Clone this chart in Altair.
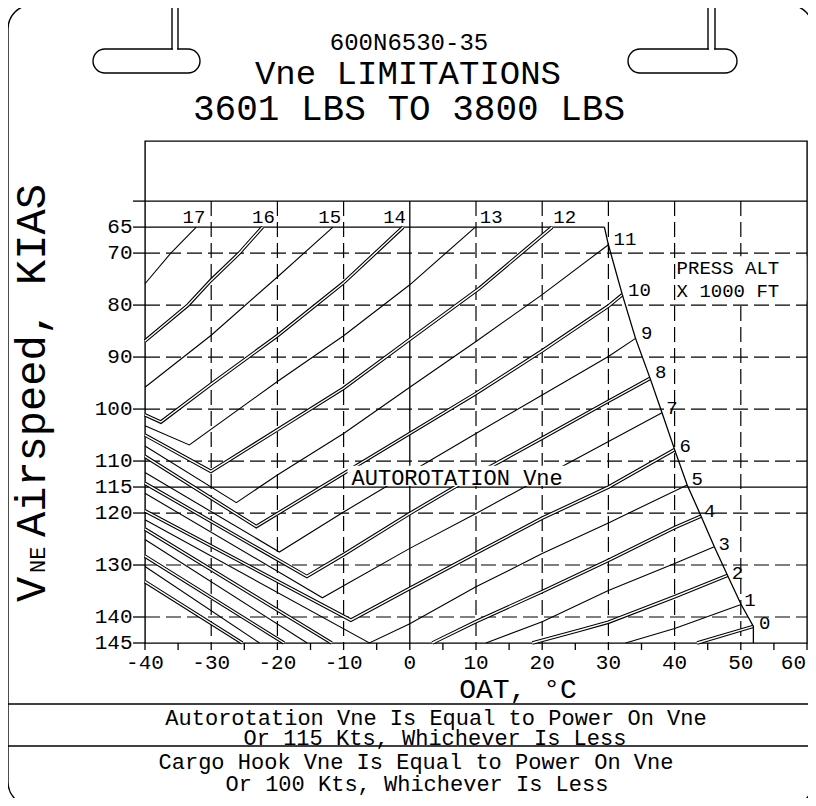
import altair as alt
import pandas as pd

# ------------------------------------------------------------------
# Values
# Pressure-altitude lines (x 1000 ft): OAT (deg C) and Vne (KIAS) along each line
# ------------------------------------------------------------------
p17_oat = [-40.0, -36.1, -32.25]
p17_vne = [75.9, 70.0, 65.0]
p16_oat = [-40.0, -33.5, -30.0, -25.75, -22.25]
p16_vne = [86.9, 80.0, 75.2, 70.0, 65.0]
p15_oat = [-40.0, -30.0, -20.0, -11.6]
p15_vne = [95.8, 85.8, 74.6, 65.0]
p14_oat = [-40.0, -37.6, -30.0, -20.0, -10.0, -1.0]
p14_vne = [101.1, 102.5, 95.2, 85.9, 75.7, 65.0]
p13_oat = [-40.0, -33.3, -20.0, -10.0, 0.0, 9.9]
p13_vne = [103.2, 106.9, 94.7, 85.9, 76.1, 65.0]
p12_oat = [-40.0, -30.05, -20.0, -10.0, 0.0, 10.5, 21.5]
p12_vne = [105.0, 112.0, 104.0, 96.0, 86.6, 76.8, 65.0]
p11_oat = [-40.0, -26.2, -20.0, -10.0, 0.0, 10.0, 20.0, 30.0]
p11_vne = [107.1, 118.0, 112.7, 104.7, 95.8, 87.0, 78.0, 68.4]
p10_oat = [-40.0, -23.2, -10.0, 0.0, 10.0, 20.0, 30.0, 32.1]
p10_vne = [109.1, 122.6, 112.4, 104.7, 97.0, 88.8, 80.2, 78.0]
p9_oat = [-40.0, -19.7, -10.0, 0.0, 10.0, 20.0, 30.0, 34.1]
p9_vne = [112.2, 127.5, 119.8, 112.2, 104.7, 97.3, 89.9, 86.4]
p8_oat = [-40.0, -15.55, -10.0, 0.0, 10.0, 20.0, 30.0, 36.3]
p8_vne = [114.3, 132.2, 128.0, 120.1, 112.6, 105.6, 98.5, 94.1]
p7_oat = [-40.0, -13.2, -10.0, 0.0, 10.0, 22.5, 38.1]
p7_vne = [116.2, 136.3, 134.0, 126.8, 120.1, 111.4, 100.7]
p6_oat = [-40.0, -8.9, 0.0, 10.0, 20.0, 30.0, 40.0]
p6_vne = [119.6, 140.6, 134.5, 127.7, 121.0, 115.0, 107.8]
p5_oat = [-40.0, -6.1, 0.0, 10.0, 20.0, 30.0, 41.9]
p5_vne = [121.3, 145.0, 141.3, 134.2, 127.8, 121.9, 114.6]
p4_cold_oat = [-40.0, -11.8]
p4_cold_vne = [123.1, 145.0]
p4_warm_oat = [3.4, 10.0, 20.0, 30.0, 40.0, 44.0]
p4_warm_vne = [145.0, 140.9, 135.1, 129.1, 122.8, 120.6]
p3_cold_oat = [-40.0, -15.5]
p3_cold_vne = [125.1, 145.0]
p3_warm_oat = [11.5, 20.0, 30.0, 40.0, 46.0]
p3_warm_vne = [145.0, 140.9, 134.9, 129.7, 126.5]
p2_cold_oat = [-40.0, -19.0]
p2_cold_vne = [128.3, 145.0]
p2_warm_oat = [18.5, 25.5, 30.0, 40.0, 48.0]
p2_warm_vne = [145.0, 142.6, 141.0, 136.1, 132.0]
p1_cold_oat = [-40.0, -22.7]
p1_cold_vne = [130.3, 145.0]
p1_warm_oat = [32.6, 40.0, 50.05]
p1_warm_vne = [145.0, 142.2, 137.6]
p0_cold_oat = [-40.0, -25.3]
p0_cold_vne = [133.2, 145.0]
p0_warm_oat = [43.4, 51.9]
p0_warm_vne = [145.0, 141.8]

# Vne limit boundary (right edge of the family of lines)
limit_oat = [29.4, 30.0, 32.1, 34.1, 36.3, 38.1, 40.0, 41.9, 44.0, 46.0, 48.0, 50.05, 51.9, 51.9]
limit_vne = [65.0, 68.4, 78.0, 86.4, 94.1, 100.7, 107.8, 114.6, 120.6, 126.5, 132.0, 137.6, 141.8, 145.0]

# altitudes drawn as double lines
double_alts = [0, 2, 4, 6, 8, 10, 12, 14, 16]

# altitude labels
alt_labels = ["0", "1", "2", "3", "4", "5", "6", "7", "8", "9", "10", "11", "12", "13", "14", "15", "16", "17"]
alt_label_oat = [53.6, 51.4, 49.5, 47.5, 45.3, 43.4, 41.6, 39.6, 37.9, 35.8, 34.7, 32.5, 23.4, 12.3, -2.3, -12.1, -22.1, -32.6]
alt_label_vne = [141.2, 136.8, 131.5, 125.9, 119.7, 113.5, 107.1, 99.8, 92.9, 85.4, 77.1, 67.2, 63.0, 63.0, 63.0, 63.0, 63.0, 63.0]

# axes / grid
oat_ticks = list(range(-40, 65, 5))
oat_label_values = [-40, -30, -20, -10, 0, 10, 20, 30, 40, 50]
oat_tick_labels = ["-40", "-30", "-20", "-10", "0", "10", "20", "30", "40", "50"]
oat_last_value = [60]
oat_last_label = ["60"]
vne_ticks = [60, 65, 70, 80, 90, 100, 110, 115, 120, 130, 140, 145]
vne_label_values = [65, 70, 80, 90, 100, 110, 115, 120, 130, 140, 145]
vne_tick_labels = ["65", "70", "80", "90", "100", "110", "115", "120", "130", "140", "145"]
grid_oat = [-30, -20, -10, 10, 20, 30, 40, 50]
grid_vne = [70, 80, 90, 100, 110, 120, 130, 140]

# texts
doc_number = "600N6530-35"
title_1 = "Vne LIMITATIONS"
title_2 = "3601 LBS TO 3800 LBS"
x_title = "OAT, °C"
note_lines = [
    "Autorotation Vne Is Equal to Power On Vne",
    "Or 115 Kts, Whichever Is Less",
    "Cargo Hook Vne Is Equal to Power On Vne",
    "Or 100 Kts, Whichever Is Less",
]
autorot_text = "AUTOROTATION Vne"
press_alt_text = ["PRESS ALT", "X 1000 FT"]
y_title_parts = ["V", "NE", "Airspeed, KIAS"]

# ------------------------------------------------------------------
# Scales and helpers
# ------------------------------------------------------------------
W, H = 662, 502
OAT_MIN, OAT_MAX = -40, 60
VNE_TOP, VNE_BOT = 48.44, 145
FONT = "Liberation Mono"

xs = alt.Scale(domain=[OAT_MIN, OAT_MAX], nice=False, zero=False)
ys = alt.Scale(domain=[VNE_TOP, VNE_BOT], reverse=True, nice=False, zero=False)


def ox(p):  # pixel offset from plot left -> OAT value on the x scale
    return OAT_MIN + p * (OAT_MAX - OAT_MIN) / W


def vy(p):  # pixel offset from plot top -> Vne value on the y scale
    return VNE_TOP + p * (VNE_BOT - VNE_TOP) / H


def X(f):
    return alt.X(f, type="quantitative", scale=xs, axis=None)


def Y(f):
    return alt.Y(f, type="quantitative", scale=ys, axis=None)


# ------------------------------------------------------------------
# Tables
# ------------------------------------------------------------------
segments = [
    (17, p17_oat, p17_vne), (16, p16_oat, p16_vne), (15, p15_oat, p15_vne),
    (14, p14_oat, p14_vne), (13, p13_oat, p13_vne), (12, p12_oat, p12_vne),
    (11, p11_oat, p11_vne), (10, p10_oat, p10_vne), (9, p9_oat, p9_vne),
    (8, p8_oat, p8_vne), (7, p7_oat, p7_vne), (6, p6_oat, p6_vne),
    (5, p5_oat, p5_vne),
    (4, p4_cold_oat, p4_cold_vne), (4, p4_warm_oat, p4_warm_vne),
    (3, p3_cold_oat, p3_cold_vne), (3, p3_warm_oat, p3_warm_vne),
    (2, p2_cold_oat, p2_cold_vne), (2, p2_warm_oat, p2_warm_vne),
    (1, p1_cold_oat, p1_cold_vne), (1, p1_warm_oat, p1_warm_vne),
    (0, p0_cold_oat, p0_cold_vne), (0, p0_warm_oat, p0_warm_vne),
]
rows = []
for sid, (a, ts, vs) in enumerate(segments):
    for i, (t, v) in enumerate(zip(ts, vs)):
        rows.append({"seg": sid, "alt": a, "oat": t, "vne": v, "i": i,
                     "double": a in double_alts})
lines_df = pd.DataFrame(rows)
single_df = lines_df[~lines_df["double"]]
double_df = lines_df[lines_df["double"]]
limit_df = pd.DataFrame({"oat": limit_oat, "vne": limit_vne, "i": range(len(limit_oat))})
label_df = pd.DataFrame({"txt": alt_labels, "oat": alt_label_oat, "vne": alt_label_vne})

# ------------------------------------------------------------------
# Axes (ticks and tick labels on the shared scales)
# ------------------------------------------------------------------
xticks = alt.Chart(pd.DataFrame({"oat": oat_ticks, "v1": VNE_BOT, "v2": vy(H + 7)})).mark_rule(
    color="black", strokeWidth=1.3).encode(x=X("oat:Q"), y=Y("v1:Q"), y2="v2:Q")
xlabels = alt.Chart(pd.DataFrame({"oat": oat_label_values, "txt": oat_tick_labels,
                                  "v": vy(H + 20)})).mark_text(
    font=FONT, fontSize=21, color="black", align="center", baseline="middle").encode(
    x=X("oat:Q"), y=Y("v:Q"), text="txt:N")
xlabel_last = alt.Chart(pd.DataFrame({"oat": oat_last_value, "txt": oat_last_label,
                                      "v": vy(H + 20)})).mark_text(
    font=FONT, fontSize=21, color="black", align="right", baseline="middle", dx=-1).encode(
    x=X("oat:Q"), y=Y("v:Q"), text="txt:N")
yticks = alt.Chart(pd.DataFrame({"vne": vne_ticks, "t1": ox(-12), "t2": OAT_MIN})).mark_rule(
    color="black", strokeWidth=1.3).encode(x=X("t1:Q"), x2="t2:Q", y=Y("vne:Q"))
ylabels = alt.Chart(pd.DataFrame({"vne": vne_label_values, "txt": vne_tick_labels,
                                  "t": ox(-12.5)})).mark_text(
    font=FONT, fontSize=21, color="black", align="right", baseline="middle").encode(
    x=X("t:Q"), y=Y("vne:Q"), text="txt:N")

# grid lines
vgrid = alt.Chart(pd.DataFrame({"oat": grid_oat, "v1": 60, "v2": 145})).mark_rule(
    color="black", strokeWidth=1.2, strokeDash=[15, 6]
).encode(x=X("oat:Q"), y=Y("v1:Q"), y2="v2:Q")
hgrid = alt.Chart(pd.DataFrame({"vne": grid_vne, "t1": -40, "t2": 60})).mark_rule(
    color="black", strokeWidth=1.2, strokeDash=[15, 6]
).encode(x=X("t1:Q"), x2="t2:Q", y=Y("vne:Q"))

solid_h = alt.Chart(pd.DataFrame({"vne": [60, 115, 65], "t1": [-40, -40, -40], "t2": [60, 60, 29.4]})).mark_rule(
    color="black", strokeWidth=1.3
).encode(x=X("t1:Q"), x2="t2:Q", y=Y("vne:Q"))
solid_v = alt.Chart(pd.DataFrame({"oat": [0], "v1": [60], "v2": [145]})).mark_rule(
    color="black", strokeWidth=1.3
).encode(x=X("oat:Q"), y=Y("v1:Q"), y2="v2:Q")

single = alt.Chart(single_df).mark_line(color="black", strokeWidth=1.1).encode(
    x=X("oat:Q"), y=Y("vne:Q"), detail="seg:N", order="i:Q")
double_outer = alt.Chart(double_df).mark_line(color="black", strokeWidth=3.6).encode(
    x=X("oat:Q"), y=Y("vne:Q"), detail="seg:N", order="i:Q")
double_inner = alt.Chart(double_df).mark_line(color="white", strokeWidth=1.4).encode(
    x=X("oat:Q"), y=Y("vne:Q"), detail="seg:N", order="i:Q")
limit = alt.Chart(limit_df).mark_line(color="black", strokeWidth=1.3).encode(
    x=X("oat:Q"), y=Y("vne:Q"), order="i:Q")

# white boxes behind in-plot notes
boxes = alt.Chart(pd.DataFrame({"t1": [-9.4, 40.25], "t2": [25.3, 59.9],
                                "v1": [110.9, 70.6], "v2": [114.8, 79.3]})).mark_rect(
    color="white").encode(x=X("t1:Q"), x2="t2:Q", y=Y("v1:Q"), y2="v2:Q")

alt_lbls = alt.Chart(label_df).mark_text(font=FONT, fontSize=19, color="black",
                                         align="center", baseline="middle").encode(
    x=X("oat:Q"), y=Y("vne:Q"), text="txt:N")
autorot = alt.Chart(pd.DataFrame({"txt": [autorot_text], "oat": [-8.8], "vne": [113.2]})).mark_text(
    font=FONT, fontSize=22, color="black", align="left", baseline="middle").encode(
    x=X("oat:Q"), y=Y("vne:Q"), text="txt:N")
press = alt.Chart(pd.DataFrame({"txt": press_alt_text, "oat": [40.3, 40.3], "vne": [72.95, 77.25]})).mark_text(
    font=FONT, fontSize=19, color="black", align="left", baseline="middle").encode(
    x=X("oat:Q"), y=Y("vne:Q"), text="txt:N")

# ------------------------------------------------------------------
# Page decorations (layout in pixel offsets from the plot's top-left corner)
# ------------------------------------------------------------------
def rect_df(x1, x2, y1, y2):
    return pd.DataFrame({"t1": [ox(v) for v in x1], "t2": [ox(v) for v in x2],
                         "v1": [vy(v) for v in y1], "v2": [vy(v) for v in y2]})


border = alt.Chart(rect_df([-137], [668], [-136], [665])).mark_rect(
    filled=False, stroke="black", strokeWidth=1.4, cornerRadius=24).encode(
    x=X("t1:Q"), x2="t2:Q", y=Y("v1:Q"), y2="v2:Q")
slots = alt.Chart(rect_df([-52, 483], [55, 592], [-92, -92], [-68, -68])).mark_rect(
    fill="white", stroke="black", strokeWidth=1.4, cornerRadius=12).encode(
    x=X("t1:Q"), x2="t2:Q", y=Y("v1:Q"), y2="v2:Q")
tab_gap = alt.Chart(rect_df([27.8, 563.8, 27.8, 563.8], [32.2, 569.2, 32.2, 569.2],
                            [-93.5, -93.5, -138, -138], [-90.5, -90.5, -134, -134])).mark_rect(
    color="white").encode(x=X("t1:Q"), x2="t2:Q", y=Y("v1:Q"), y2="v2:Q")
tab_lines = alt.Chart(pd.DataFrame({"t": [ox(v) for v in [27, 33, 563, 570]],
                                    "v1": [vy(-141)] * 4, "v2": [vy(-91.5)] * 4})).mark_rule(
    color="black", strokeWidth=1.4).encode(x=X("t:Q"), y=Y("v1:Q"), y2="v2:Q")
seps = alt.Chart(pd.DataFrame({"t1": [ox(-137)] * 2, "t2": [ox(668)] * 2,
                               "v": [vy(563), vy(605)]})).mark_rule(
    color="black", strokeWidth=1.4).encode(x=X("t1:Q"), x2="t2:Q", y=Y("v:Q"))

center_texts = pd.DataFrame({
    "txt": [doc_number, title_1, title_2, x_title] + note_lines,
    "t": [ox(v) for v in [264, 263, 264, 373, 291, 290, 271, 272]],
    "v": [vy(v) for v in [-91, -57, -21, 557, 584, 604, 628, 650]],
    "fs": [24, 34, 36, 28, 22, 22, 22, 22],
})
ctext = alt.Chart(center_texts).mark_text(font=FONT, color="black", align="center",
                                          baseline="alphabetic").encode(
    x=X("t:Q"), y=Y("v:Q"), text="txt:N", size=alt.Size("fs:Q", scale=None, legend=None))

ytitle = pd.DataFrame({"txt": y_title_parts,
                       "t": [ox(-100)] * 3, "v": [vy(v) for v in [461, 432, 396]], "fs": [42, 22, 42]})
ytext = alt.Chart(ytitle).mark_text(font=FONT, color="black", align="left",
                                    baseline="alphabetic", angle=270).encode(
    x=X("t:Q"), y=Y("v:Q"), text="txt:N", size=alt.Size("fs:Q", scale=None, legend=None))

chart = alt.layer(
    vgrid, hgrid, solid_h, solid_v,
    single, double_outer, double_inner, limit,
    boxes, alt_lbls, autorot, press,
    xticks, xlabels, xlabel_last, yticks, ylabels,
    border, slots, tab_gap, tab_lines, seps, ctext, ytext,
).properties(
    width=W, height=H, background="white",
    padding={"left": 137, "top": 133, "right": 1, "bottom": 155},
    autosize=alt.AutoSizeParams(type="none"),
).configure_view(
    stroke="black", strokeWidth=1.4
)

chart.save("out.html", embed_options={"renderer": "svg", "actions": False})
